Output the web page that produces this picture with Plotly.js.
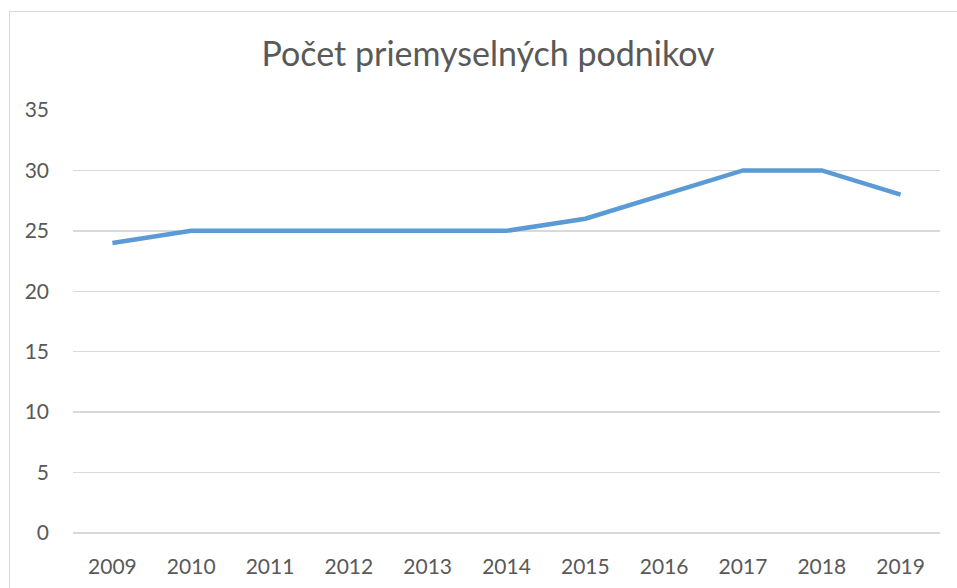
<!DOCTYPE html>
<html><head><meta charset="utf-8">
<script src="https://cdn.plot.ly/plotly-3.0.1.min.js"></script>
<style>
html,body{margin:0;padding:0;background:#fff;overflow:hidden;}
#frame{position:absolute;left:9px;top:11px;width:1000px;height:640px;border:1px solid #D9D9D9;box-sizing:border-box;}
#chart{position:absolute;left:0;top:0;width:957px;height:588px;}
</style></head>
<body>
<div id="frame"></div>
<div id="chart"></div>
<script>
const years = ["2009","2010","2011","2012","2013","2014","2015","2016","2017","2018","2019"];
const podniky = [24,25,25,25,25,25,26,28,30,30,28];
const titleText = "Počet priemyselných podnikov";
const yTicks = [0,5,10,15,20,25,30,35];

const font = "Lato, 'Open Sans', sans-serif";
Plotly.newPlot("chart", [{
  x: years, y: podniky, type: "scatter", mode: "lines",
  line: {color: "#5B9BD5", width: 4.5}, hoverinfo: "x+y"
}], {
  width: 957, height: 588,
  paper_bgcolor: "rgba(0,0,0,0)", plot_bgcolor: "rgba(0,0,0,0)",
  margin: {l: 73, r: 17, t: 110, b: 55},
  showlegend: false,
  title: {text: titleText, x: 0.51, xanchor: "center", y: 0.908, yanchor: "middle",
          font: {family: font, size: 34, color: "#595959"}},
  xaxis: {type: "category", range: [-0.5, 10.5], showgrid: false, zeroline: false,
          showline: false, ticks: "", ticklabelstandoff: 19,
          tickfont: {family: font, size: 21, color: "#595959"}},
  yaxis: {range: [0, 35], tickvals: yTicks, showgrid: true, gridcolor: "#D9D9D9", gridwidth: 1.3,
          zeroline: true, zerolinecolor: "#D9D9D9", zerolinewidth: 1.3,
          showline: false, ticks: "", ticklabelstandoff: 23,
          tickfont: {family: font, size: 21, color: "#595959"}}
}, {displayModeBar: false, staticPlot: true});
</script>
</body></html>
